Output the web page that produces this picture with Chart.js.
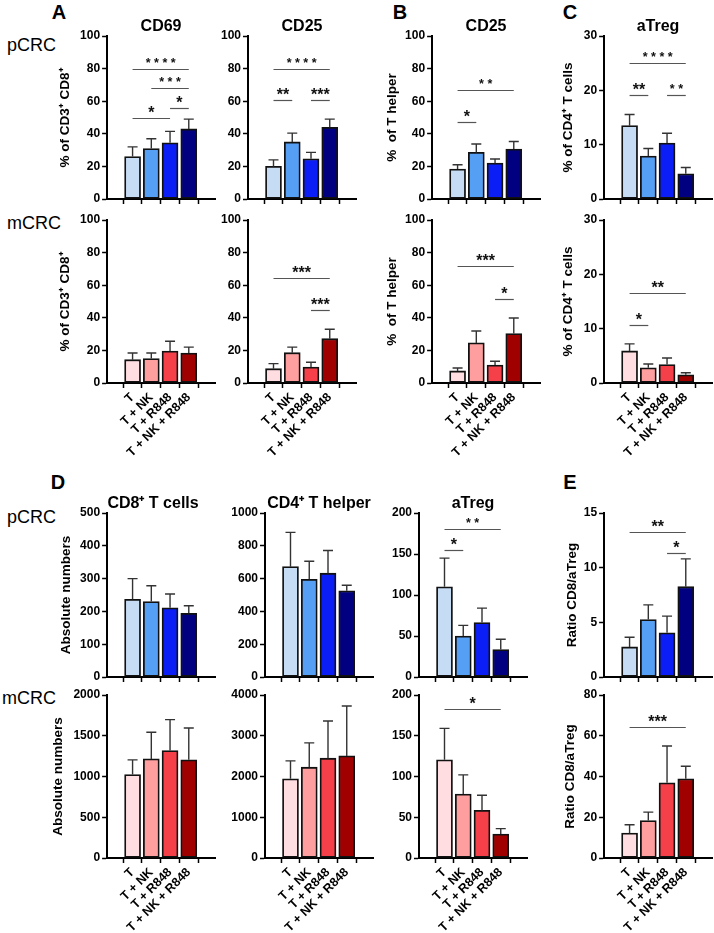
<!DOCTYPE html>
<html>
<head>
<meta charset="utf-8">
<script src="https://cdn.jsdelivr.net/npm/chart.js@4.4.1/dist/chart.umd.min.js"></script>
<style>
  body { margin: 0; background: #fff; }
  #fig { position: relative; width: 714px; height: 933px; overflow: hidden; font-family: 'Liberation Sans', Arial, sans-serif; }
  #fig canvas { position: absolute; }
  .lbl { position: absolute; transform: translate(-50%, -50%); white-space: nowrap; color: #000; }
  .letter { font-weight: bold; font-size: 20px; }
  .rowname { position: absolute; font-size: 18px; transform: translate(0, -50%); color: #000; }
</style>
</head>
<body>
<div id="fig">
  <div class="lbl letter" style="left:59px;top:12px">A</div>
  <div class="lbl letter" style="left:400px;top:12px">B</div>
  <div class="lbl letter" style="left:570px;top:12px">C</div>
  <div class="lbl letter" style="left:58px;top:482px">D</div>
  <div class="lbl letter" style="left:570px;top:482px">E</div>
  <div class="rowname" style="left:7px;top:45px">pCRC</div>
  <div class="rowname" style="left:7px;top:223px">mCRC</div>
  <div class="rowname" style="left:7px;top:517px">pCRC</div>
  <div class="rowname" style="left:2px;top:698px">mCRC</div>
</div>
<script>
const FONT = "'Liberation Sans', Arial, sans-serif";

// conditions on the x axis
const groups = ['T', 'T + NK', 'T + R848', 'T + NK + R848'];

// y tick labels
const pctTicks = [0, 20, 40, 60, 80, 100];
const tregPctTicks = [0, 10, 20, 30];
const cd8PTicks = [0, 100, 200, 300, 400, 500];
const cd4PTicks = [0, 200, 400, 600, 800, 1000];
const tregAbsTicks = [0, 50, 100, 150, 200];
const ratioPTicks = [0, 5, 10, 15];
const cd8MTicks = [0, 500, 1000, 1500, 2000];
const cd4MTicks = [0, 1000, 2000, 3000, 4000];
const ratioMTicks = [0, 20, 40, 60, 80];

// A: CD69 / CD25 on CD3+CD8+ (mean, mean + SEM)
const cd69P = [26, 31, 34.5, 43];
const cd69PErr = [32, 37, 41.5, 49];
const cd69M = [14.3, 15, 19.6, 18.4];
const cd69MErr = [18.4, 18.4, 25.6, 22];
const cd25P = [20, 35, 24.7, 44];
const cd25PErr = [24, 40.4, 28.6, 49];
const cd25M = [8.8, 18.6, 9.8, 27.2];
const cd25MErr = [11.9, 22, 12.7, 33];
// B: CD25 on T helper
const thP = [18.4, 28.6, 22, 30.6];
const thPErr = [21, 33.7, 24.5, 35.3];
const thM = [7.4, 24.6, 11, 30.3];
const thMErr = [9.2, 31.9, 13.3, 39.9];
// C: aTreg % of CD4+
const tregP = [13.5, 7.9, 10.3, 4.65];
const tregPErr = [15.55, 9.3, 12.1, 5.8];
const tregM = [5.9, 2.8, 3.4, 1.5];
const tregMErr = [7.2, 3.5, 4.6, 1.9];
// D: absolute numbers
const cd8AbsP = [237, 230, 211, 194];
const cd8AbsPErr = [300, 278, 253, 217];
const cd4AbsP = [673, 596, 633, 526];
const cd4AbsPErr = [882, 706, 771, 559];
const tregAbsP = [110, 50, 66.5, 33.5];
const tregAbsPErr = [145, 63, 84, 46];
const cd8AbsM = [1024, 1216, 1318, 1204];
const cd8AbsMErr = [1204, 1543, 1698, 1596];
const cd4AbsM = [1943, 2229, 2449, 2506];
const cd4AbsMErr = [2384, 2824, 3363, 3731];
const tregAbsM = [120.4, 78.4, 58.4, 29.4];
const tregAbsMErr = [159, 102, 77, 36];
// E: ratio CD8/aTreg
const ratioP = [2.75, 5.26, 4.04, 8.26];
const ratioPErr = [3.64, 6.6, 5.57, 10.8];
const ratioM = [12.2, 18.4, 36.9, 38.9];
const ratioMErr = [16.3, 22.5, 55, 45];

// significance brackets: [from group, to group, y value, stars]
const cd69PSig = [[0, 3, 80, '* * * *'], [1, 3, 68, '* * *'], [2, 3, 56, '*'], [0, 2, 50, '*']];
const cd25PSig = [[0, 3, 80, '* * * *'], [0, 1, 61, '**'], [2, 3, 61, '***']];
const thPSig = [[0, 3, 67, '* *'], [0, 1, 47, '*']];
const tregPSig = [[0, 3, 25.1, '* * * *'], [0, 1, 19.1, '**'], [2, 3, 19.1, '* *']];
const cd25MSig = [[0, 3, 64.4, '***'], [2, 3, 45, '***']];
const thMSig = [[0, 3, 71.8, '***'], [2, 3, 51.8, '*']];
const tregMSig = [[0, 3, 16.6, '**'], [0, 1, 10.7, '*']];
const tregAbsPSig = [[0, 3, 180, '* *'], [0, 1, 155, '*']];
const ratioPSig = [[0, 3, 13.3, '**'], [2, 3, 11.3, '*']];
const tregAbsMSig = [[0, 3, 183, '*']];
const ratioMSig = [[0, 3, 64.5, '***']];

const blues = ['#c6dcf5', '#55a0f5', '#0a1ef5', '#000080'];
const reds = ['#ffdde0', '#ff9e9e', '#f5404a', '#a00000'];

// plot rows [top, bottom] in page pixels
const rows = [[36, 199], [220, 383], [513, 677], [695, 858]];
const PLOT_W = 108;

const panels = [
  { row: 0, x0: 107, values: cd69P, err: cd69PErr, sig: cd69PSig, ticks: pctTicks, title: 'CD69', yTitle: '% of CD3⁺ CD8⁺', dist: 42 },
  { row: 0, x0: 248, values: cd25P, err: cd25PErr, sig: cd25PSig, ticks: pctTicks, title: 'CD25' },
  { row: 0, x0: 432, values: thP, err: thPErr, sig: thPSig, ticks: pctTicks, title: 'CD25', yTitle: '%  of T helper', dist: 40 },
  { row: 0, x0: 604, values: tregP, err: tregPErr, sig: tregPSig, ticks: tregPctTicks, title: 'aTreg', yTitle: '% of CD4⁺ T cells', dist: 36 },
  { row: 1, x0: 107, values: cd69M, err: cd69MErr, sig: [], ticks: pctTicks, yTitle: '% of CD3⁺ CD8⁺', dist: 42 },
  { row: 1, x0: 248, values: cd25M, err: cd25MErr, sig: cd25MSig, ticks: pctTicks },
  { row: 1, x0: 432, values: thM, err: thMErr, sig: thMSig, ticks: pctTicks, yTitle: '%  of T helper', dist: 40 },
  { row: 1, x0: 604, values: tregM, err: tregMErr, sig: tregMSig, ticks: tregPctTicks, yTitle: '% of CD4⁺ T cells', dist: 36 },
  { row: 2, x0: 107, values: cd8AbsP, err: cd8AbsPErr, sig: [], ticks: cd8PTicks, title: 'CD8⁺ T cells', titleDx: -8, yTitle: 'Absolute numbers', dist: 41 },
  { row: 2, x0: 265, values: cd4AbsP, err: cd4AbsPErr, sig: [], ticks: cd4PTicks, title: 'CD4⁺ T helper' },
  { row: 2, x0: 419, values: tregAbsP, err: tregAbsPErr, sig: tregAbsPSig, ticks: tregAbsTicks, title: 'aTreg' },
  { row: 2, x0: 604, values: ratioP, err: ratioPErr, sig: ratioPSig, ticks: ratioPTicks, yTitle: 'Ratio CD8/aTreg', dist: 32 },
  { row: 3, x0: 107, values: cd8AbsM, err: cd8AbsMErr, sig: [], ticks: cd8MTicks, yTitle: 'Absolute numbers', dist: 49 },
  { row: 3, x0: 265, values: cd4AbsM, err: cd4AbsMErr, sig: [], ticks: cd4MTicks },
  { row: 3, x0: 419, values: tregAbsM, err: tregAbsMErr, sig: tregAbsMSig, ticks: tregAbsTicks },
  { row: 3, x0: 604, values: ratioM, err: ratioMErr, sig: ratioMSig, ticks: ratioMTicks, yTitle: 'Ratio CD8/aTreg', dist: 34 }
];

// error bars, significance brackets and panel titles
function extrasFor(p) {
  return {
    id: 'extras',
    afterDatasetsDraw(chart) {
      const { ctx, chartArea, scales: { x, y } } = chart;
      ctx.save();
      ctx.strokeStyle = '#333';
      ctx.lineWidth = 1.4;
      p.values.forEach((v, i) => {
        const px = x.getPixelForValue(i);
        const top = y.getPixelForValue(p.err[i]);
        ctx.beginPath();
        ctx.moveTo(px, y.getPixelForValue(v));
        ctx.lineTo(px, top);
        ctx.moveTo(px - 5, top);
        ctx.lineTo(px + 5, top);
        ctx.stroke();
      });
      ctx.strokeStyle = '#555';
      ctx.lineWidth = 1.2;
      ctx.fillStyle = '#111';
      ctx.textAlign = 'center';
      p.sig.forEach(([a, b, val, stars]) => {
        const x1 = x.getPixelForValue(a);
        const x2 = x.getPixelForValue(b);
        const py = Math.round(y.getPixelForValue(val)) + 0.5;
        ctx.beginPath();
        ctx.moveTo(x1, py);
        ctx.lineTo(x2, py);
        ctx.stroke();
        const fs = stars.includes(' ') ? 12.5 : 16;
        ctx.font = 'bold ' + fs + 'px ' + FONT;
        ctx.textBaseline = 'alphabetic';
        ctx.fillText(stars, (x1 + x2) / 2, py - 9.5 + 0.56 * fs);
      });
      if (p.title) {
        ctx.fillStyle = '#000';
        ctx.font = 'bold 16px ' + FONT;
        ctx.textBaseline = 'middle';
        ctx.fillText(p.title, (chartArea.left + chartArea.right) / 2 + (p.titleDx || 0), chartArea.top - 9);
      }
      ctx.restore();
    }
  };
}

const fig = document.getElementById('fig');
const PAD_TOP = 32, PAD_LEFT = 2, PAD_RIGHT = 8, PAD_BOTTOM = 2;

panels.forEach(p => {
  const [rowTop, rowBottom] = rows[p.row];
  const showLabels = p.row === 1 || p.row === 3;
  const yw = p.yTitle ? p.dist + 8.1 : 40;
  const xh = showLabels ? 90 : 12;
  const colors = p.row % 2 === 0 ? blues : reds;

  const canvas = document.createElement('canvas');
  const w = Math.round(PAD_LEFT + yw + PLOT_W + PAD_RIGHT);
  const h = PAD_TOP + (rowBottom - rowTop) + xh + PAD_BOTTOM;
  canvas.width = w;
  canvas.height = h;
  canvas.style.left = (p.x0 - yw - PAD_LEFT) + 'px';
  canvas.style.top = (rowTop - PAD_TOP) + 'px';
  canvas.style.width = w + 'px';
  canvas.style.height = h + 'px';
  fig.appendChild(canvas);

  new Chart(canvas.getContext('2d'), {
    type: 'bar',
    data: {
      datasets: [{
        data: p.values.map((v, i) => ({ x: i, y: v })),
        backgroundColor: colors,
        borderColor: '#111',
        borderWidth: 1.8,
        borderSkipped: false,
        barThickness: 16
      }]
    },
    options: {
      responsive: false,
      animation: false,
      devicePixelRatio: 1,
      layout: { padding: { top: PAD_TOP, left: PAD_LEFT, right: PAD_RIGHT, bottom: PAD_BOTTOM } },
      plugins: { legend: { display: false }, tooltip: { enabled: false } },
      scales: {
        x: {
          type: 'linear',
          min: -0.64,
          max: 3.68,
          afterFit(scale) { scale.height = xh; },
          grid: { drawOnChartArea: false, drawTicks: true, tickLength: 5, tickColor: '#000', tickWidth: 1.5 },
          border: { display: true, color: '#000', width: 2 },
          ticks: {
            display: showLabels,
            stepSize: 1,
            includeBounds: false,
            autoSkip: false,
            minRotation: 45,
            maxRotation: 45,
            padding: 2,
            color: '#000',
            font: { family: FONT, size: 12.5, weight: 'bold' },
            callback: v => groups[v] || ''
          }
        },
        y: {
          min: p.ticks[0],
          max: p.ticks[p.ticks.length - 1],
          afterFit(scale) { scale.width = yw; },
          grid: { drawOnChartArea: false, drawTicks: true, tickLength: 5, tickColor: '#000', tickWidth: 1.5 },
          border: { display: true, color: '#000', width: 2 },
          ticks: {
            stepSize: p.ticks[1] - p.ticks[0],
            padding: 2,
            color: '#000',
            font: { family: FONT, size: 12, weight: 'bold' },
            callback: v => String(v)
          },
          title: {
            display: !!p.yTitle,
            text: p.yTitle || '',
            padding: 0,
            color: '#000',
            font: { family: FONT, size: 13.5, weight: 'bold' }
          }
        }
      }
    },
    plugins: [extrasFor(p)]
  });
});
</script>
</body>
</html>
